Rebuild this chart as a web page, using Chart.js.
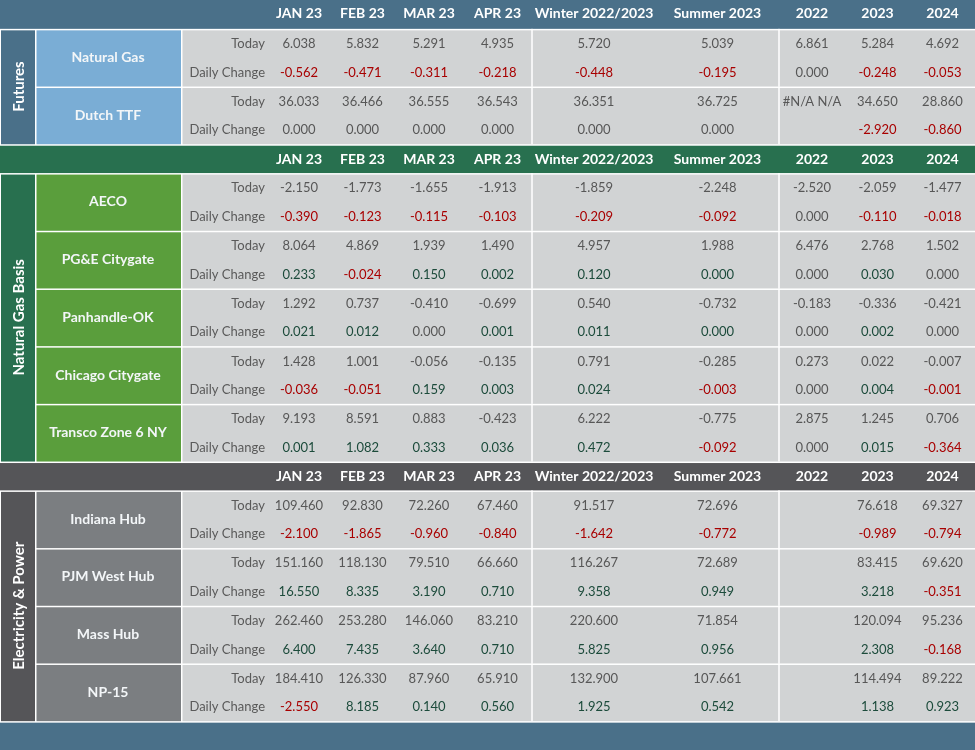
<!DOCTYPE html>
<html>
<head>
<meta charset="utf-8">
<script src="https://cdn.jsdelivr.net/npm/chart.js@4.4.0/dist/chart.umd.min.js"></script>
<style>
  html, body { margin: 0; padding: 0; background: #ffffff; }
  #wrap { width: 975px; height: 750px; }
</style>
</head>
<body>
<div id="wrap"><canvas id="c" width="975" height="750"></canvas></div>
<script>
// ---------------- DATA ----------------
const COLUMNS = ["JAN 23", "FEB 23", "MAR 23", "APR 23", "Winter 2022/2023", "Summer 2023", "2022", "2023", "2024"];
const SECTIONS = ["Futures", "Natural Gas Basis", "Electricity & Power"];
const ROW_LABELS = ["Today", "Daily Change"];

const FUTURES_HUBS = ["Natural Gas", "Dutch TTF"];
const BASIS_HUBS = ["AECO", "PG&E Citygate", "Panhandle-OK", "Chicago Citygate", "Transco Zone 6 NY"];
const POWER_HUBS = ["Indiana Hub", "PJM West Hub", "Mass Hub", "NP-15"];

// Futures
const NATGAS_TODAY  = [6.038, 5.832, 5.291, 4.935, 5.720, 5.039, 6.861, 5.284, 4.692];
const NATGAS_CHANGE = [-0.562, -0.471, -0.311, -0.218, -0.448, -0.195, 0.000, -0.248, -0.053];
const TTF_TODAY     = [36.033, 36.466, 36.555, 36.543, 36.351, 36.725, "#N/A N/A", 34.650, 28.860];
const TTF_CHANGE    = [0.000, 0.000, 0.000, 0.000, 0.000, 0.000, null, -2.920, -0.860];

// Natural Gas Basis (0.0003 = shown as 0.000 but in the "positive" colour)
const AECO_TODAY      = [-2.150, -1.773, -1.655, -1.913, -1.859, -2.248, -2.520, -2.059, -1.477];
const AECO_CHANGE     = [-0.390, -0.123, -0.115, -0.103, -0.209, -0.092, 0.000, -0.110, -0.018];
const PGE_TODAY       = [8.064, 4.869, 1.939, 1.490, 4.957, 1.988, 6.476, 2.768, 1.502];
const PGE_CHANGE      = [0.233, -0.024, 0.150, 0.002, 0.120, 0.0003, 0.000, 0.030, 0.000];
const PANHANDLE_TODAY = [1.292, 0.737, -0.410, -0.699, 0.540, -0.732, -0.183, -0.336, -0.421];
const PANHANDLE_CHANGE= [0.021, 0.012, 0.000, 0.001, 0.011, 0.0003, 0.000, 0.002, 0.000];
const CHICAGO_TODAY   = [1.428, 1.001, -0.056, -0.135, 0.791, -0.285, 0.273, 0.022, -0.007];
const CHICAGO_CHANGE  = [-0.036, -0.051, 0.159, 0.003, 0.024, -0.003, 0.000, 0.004, -0.001];
const TRANSCO_TODAY   = [9.193, 8.591, 0.883, -0.423, 6.222, -0.775, 2.875, 1.245, 0.706];
const TRANSCO_CHANGE  = [0.001, 1.082, 0.333, 0.036, 0.472, -0.092, 0.000, 0.015, -0.364];

// Electricity & Power
const INDIANA_TODAY  = [109.460, 92.830, 72.260, 67.460, 91.517, 72.696, null, 76.618, 69.327];
const INDIANA_CHANGE = [-2.100, -1.865, -0.960, -0.840, -1.642, -0.772, null, -0.989, -0.794];
const PJM_TODAY      = [151.160, 118.130, 79.510, 66.660, 116.267, 72.689, null, 83.415, 69.620];
const PJM_CHANGE     = [16.550, 8.335, 3.190, 0.710, 9.358, 0.949, null, 3.218, -0.351];
const MASS_TODAY     = [262.460, 253.280, 146.060, 83.210, 220.600, 71.854, null, 120.094, 95.236];
const MASS_CHANGE    = [6.400, 7.435, 3.640, 0.710, 5.825, 0.956, null, 2.308, -0.168];
const NP15_TODAY     = [184.410, 126.330, 87.960, 65.910, 132.900, 107.661, null, 114.494, 89.222];
const NP15_CHANGE    = [-2.550, 8.185, 0.140, 0.560, 1.925, 0.542, null, 1.138, 0.923];

// ---------------- LAYOUT / STYLE ----------------
const FONT = "Lato, 'Open Sans', sans-serif";
const COL_WIDTHS = { section: 35, name: 146, label: 87, data: [62, 65, 68, 69, 124, 123, 66, 65, 65] };
const DIVIDER_AFTER = [3, 5]; // vertical white lines after APR 23 and Summer 2023
const STYLE = {
  white: "#ffffff",
  dataBg: "#d1d3d4",
  band: "#4a7089",
  labelText: "#5a5a5a",
  valueText: "#575757",
  neg: "#a80000",
  pos: "#1c4b3b",
  sections: [
    { head: "#4a7089", name: "#7aadd5" },
    { head: "#28704f", name: "#5a9e3c" },
    { head: "#555558", name: "#7b7e81" }
  ]
};

const HUB_DATA = [
  [[NATGAS_TODAY, NATGAS_CHANGE], [TTF_TODAY, TTF_CHANGE]],
  [[AECO_TODAY, AECO_CHANGE], [PGE_TODAY, PGE_CHANGE], [PANHANDLE_TODAY, PANHANDLE_CHANGE],
   [CHICAGO_TODAY, CHICAGO_CHANGE], [TRANSCO_TODAY, TRANSCO_CHANGE]],
  [[INDIANA_TODAY, INDIANA_CHANGE], [PJM_TODAY, PJM_CHANGE], [MASS_TODAY, MASS_CHANGE], [NP15_TODAY, NP15_CHANGE]]
];
const HUB_NAMES = [FUTURES_HUBS, BASIS_HUBS, POWER_HUBS];

// column edges (in x-scale units)
const xSection0 = 0;
const xName0 = COL_WIDTHS.section;
const xLabel0 = xName0 + COL_WIDTHS.name;
const xData0 = xLabel0 + COL_WIDTHS.label;
const dataEdges = [xData0];
COL_WIDTHS.data.forEach(w => dataEdges.push(dataEdges[dataEdges.length - 1] + w));
const X_MAX = dataEdges[dataEdges.length - 1];

// row structure (in y-scale units: one unit per sub-row)
const layoutRows = [];
let rowCursor = 0;
SECTIONS.forEach((s, si) => {
  layoutRows.push({ type: "header", section: si, r: rowCursor });
  rowCursor += 1;
  const start = rowCursor;
  HUB_NAMES[si].forEach((h, hi) => {
    layoutRows.push({ type: "hub", section: si, hub: hi, r: rowCursor });
    rowCursor += 2;
  });
  layoutRows.push({ type: "sectionCol", section: si, r0: start, r1: rowCursor });
});
layoutRows.push({ type: "band", r: rowCursor });
rowCursor += 1;
const Y_MAX = rowCursor;

function fmt(v) {
  if (v === null || v === undefined) return "";
  if (typeof v === "string") return v;
  return v.toFixed(3);
}

const tablePlugin = {
  id: "tablePlugin",
  beforeDatasetsDraw(chart) {
    const ctx = chart.ctx;
    const xs = chart.scales.x, ys = chart.scales.y;
    const X = u => xs.getPixelForValue(u);
    const Y = u => ys.getPixelForValue(u);
    const G = 1.5; // gap width

    function rect(x0u, x1u, r0, r1, color, insetL, insetT) {
      const l = X(x0u) + insetL, t = Y(r0) + insetT;
      ctx.fillStyle = color;
      ctx.fillRect(l, t, X(x1u) - l, Y(r1) - t);
    }
    function text(str, x, y, color, font, align) {
      ctx.fillStyle = color;
      ctx.font = font;
      ctx.textAlign = align || "center";
      ctx.textBaseline = "middle";
      ctx.fillText(str, x, y);
    }

    ctx.save();
    ctx.fillStyle = STYLE.white;
    ctx.fillRect(0, 0, chart.width, chart.height);

    layoutRows.forEach(row => {
      if (row.type === "header") {
        const sc = STYLE.sections[row.section];
        rect(0, X_MAX, row.r, row.r + 1, sc.head, 0, row.r === 0 ? 0 : G);
        const yc = (Y(row.r) + Y(row.r + 1)) / 2 + (row.r === 0 ? -0.5 : 0.8);
        COLUMNS.forEach((c, ci) => {
          const xc = (X(dataEdges[ci]) + X(dataEdges[ci + 1])) / 2;
          text(c, xc, yc, "#ffffff", "bold 14px " + FONT);
        });
      } else if (row.type === "sectionCol") {
        const sc = STYLE.sections[row.section];
        rect(xSection0, xName0, row.r0, row.r1, sc.head, 1, G);
        const xc = (X(xSection0) + 1 + X(xName0)) / 2;
        const yc = (Y(row.r0) + Y(row.r1)) / 2;
        ctx.save();
        ctx.translate(xc + 1, yc);
        ctx.rotate(-Math.PI / 2);
        text(SECTIONS[row.section], 0, 0, "#ffffff", "bold 15px " + FONT);
        ctx.restore();
      } else if (row.type === "hub") {
        const sc = STYLE.sections[row.section];
        const r = row.r;
        rect(xName0, xLabel0, r, r + 2, sc.name, G, G);
        rect(xLabel0, X_MAX, r, r + 2, STYLE.dataBg, G, G);
        // vertical dividers
        ctx.fillStyle = STYLE.white;
        DIVIDER_AFTER.forEach(ci => {
          const xe = X(dataEdges[ci + 1]);
          ctx.fillRect(xe - 0.75, Y(r), G, Y(r + 2) - Y(r));
        });
        // hub name
        const xn = (X(xName0) + X(xLabel0)) / 2;
        const yn = (Y(r) + Y(r + 2)) / 2;
        text(HUB_NAMES[row.section][row.hub], xn, yn, "#f3f6f8", "bold 14px " + FONT);
        // sub rows
        const data = HUB_DATA[row.section][row.hub];
        ROW_LABELS.forEach((lab, li) => {
          const ym = (Y(r + li) + Y(r + li + 1)) / 2 + (li === 0 ? 0.8 : 0.3);
          text(lab, X(xData0) - 3, ym, STYLE.labelText, "13px " + FONT, "right");
          data[li].forEach((v, ci) => {
            const xc = (X(dataEdges[ci]) + X(dataEdges[ci + 1])) / 2;
            let col = STYLE.valueText;
            if (li === 1 && typeof v === "number") {
              if (v > 0) col = STYLE.pos;
              else if (v < 0) col = STYLE.neg;
            }
            text(fmt(v), xc, ym, col, "13px " + FONT);
          });
        });
      } else if (row.type === "band") {
        rect(0, X_MAX, row.r, row.r + 1, STYLE.band, 0, G);
      }
    });
    ctx.restore();
  }
};

new Chart(document.getElementById("c"), {
  type: "scatter",
  data: { datasets: [{ data: [], pointRadius: 0 }] },
  options: {
    responsive: false,
    animation: false,
    devicePixelRatio: 1,
    layout: { padding: 0 },
    plugins: { legend: { display: false }, tooltip: { enabled: false } },
    scales: {
      x: { type: "linear", min: 0, max: X_MAX, display: false },
      y: { type: "linear", min: 0, max: Y_MAX, reverse: true, display: false }
    }
  },
  plugins: [tablePlugin]
});
</script>
</body>
</html>
